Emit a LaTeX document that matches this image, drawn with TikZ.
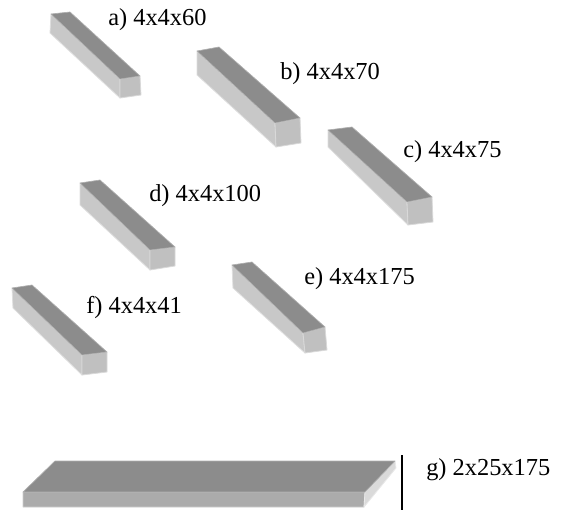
\documentclass[tikz,border=0pt]{standalone}
\usepackage{fontspec}
\setmainfont{Liberation Serif}
\definecolor{topc}{HTML}{8C8C8C}
\definecolor{sidec}{HTML}{C8C8C8}
\definecolor{frontc}{HTML}{C0C0C0}
\definecolor{lowc}{HTML}{ABABAB}
\definecolor{edgec}{HTML}{DADADA}
\tikzset{
  x=0.75pt,y=-0.75pt,
  topface/.style={fill=topc,draw=topc!70!white,line width=0.5pt,line join=round},
  sideface/.style={fill=sidec,draw=sidec!60!white,line width=0.6pt,line join=round},
  frontface/.style={fill=frontc,draw=frontc!60!white,line width=0.6pt,line join=round},
  lowface/.style={fill=lowc,draw=lowc!60!white,line width=0.6pt,line join=round},
  edgeface/.style={fill=edgec,draw=edgec!60!white,line width=0.6pt,line join=round},
  lab/.style={anchor=base west,inner sep=0pt,font=\fontsize{18.3pt}{20pt}\selectfont,text=black}
}
\newcommand{\mybeam}[7]{%
  \path[sideface] #1 -- #4 -- #5 -- #7 -- cycle;
  \path[frontface] #4 -- #3 -- #6 -- #5 -- cycle;
  \path[topface] #1 -- #2 -- #3 -- #4 -- cycle;
}
\begin{document}
\begin{tikzpicture}
\useasboundingbox (0,0) rectangle (565,510);
\mybeam{(51,14)}{(70,12)}{(140,76)}{(120,79)}{(120,98)}{(141,95)}{(50,33)}
\mybeam{(197,51)}{(219,47)}{(300,118)}{(275,123)}{(276,147)}{(301,143)}{(197,75)}
\mybeam{(328,130)}{(352,127)}{(432,197)}{(407,202)}{(408,225)}{(433,222)}{(328,147)}
\mybeam{(80,183)}{(100,180)}{(175,247)}{(150,250)}{(150,270)}{(175,266)}{(80,205)}
\mybeam{(232,265)}{(252,262)}{(325,327)}{(303,333)}{(305,353)}{(327,350)}{(233,288)}
\mybeam{(12,288)}{(32,285)}{(107,352)}{(82,355)}{(82,375)}{(107,372)}{(13,308)}
% plank g
\path[lowface] (23,492) -- (365,492) -- (364,507) -- (23,507) -- cycle;
\path[edgeface] (365,492) -- (395,461) -- (396,468) -- (364,507) -- cycle;
\path[topface] (55,461) -- (395,461) -- (365,492) -- (23,492) -- cycle;
\coordinate (gtop) at (402,455);
\coordinate (gbot) at (402,510);
\draw[black,line width=1.3pt] (gtop) -- (gbot);
\node[lab] (la) at (108,26) {a) 4x4x60};
\node[lab] (lb) at (280,80) {b) 4x4x70};
\node[lab] (lc) at (403,157) {c) 4x4x75};
\node[lab] (ld) at (149,201) {d) 4x4x100};
\node[lab] (le) at (304,284) {e) 4x4x175};
\node[lab] (lf) at (86,313) {f) 4x4x41};
\node[lab] (lg) at (426,475) {g) 2x25x175};
\end{tikzpicture}
\end{document}
